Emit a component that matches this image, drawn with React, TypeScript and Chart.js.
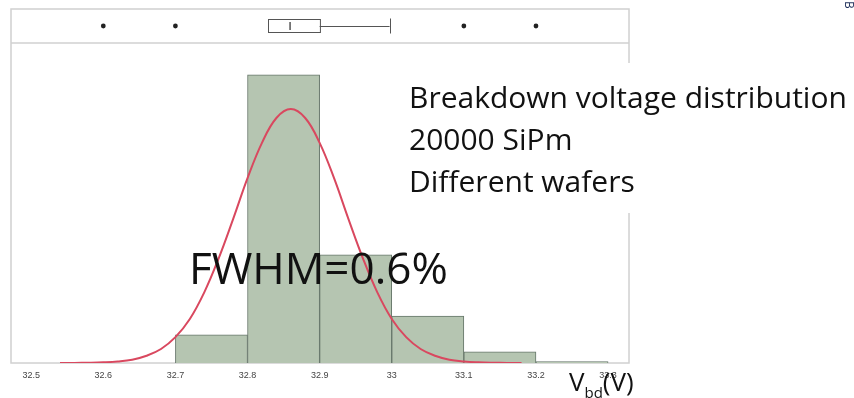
import React, { useEffect, useRef } from "react";
import { Chart, registerables } from "chart.js";

Chart.register(...registerables);

// Histogram bins (bin centres, V) and counts
const binCenters = [32.75, 32.85, 32.95, 33.05, 33.15, 33.25];
const binCounts = [1160, 11910, 4470, 1940, 460, 60];

// Fitted normal curve sampled along the voltage axis
const fitX = [
  32.54, 32.56, 32.58, 32.6, 32.62, 32.64, 32.66, 32.68, 32.7, 32.72, 32.74, 32.76,
  32.78, 32.8, 32.82, 32.84, 32.86, 32.88, 32.9, 32.92, 32.94, 32.96, 32.98, 33.0,
  33.02, 33.04, 33.06, 33.08, 33.1, 33.12, 33.14, 33.16, 33.18,
];
const fitY = [
  2, 5, 12, 28, 62, 135, 300, 580, 1070, 1820, 2920, 4330,
  5950, 7640, 9100, 10130, 10500, 10130, 9100, 7640, 5950, 4330, 2920, 1820,
  1070, 580, 300, 135, 62, 28, 12, 5, 2,
];

// Box plot summary of the same sample
const boxQ1 = 32.828;
const boxMedian = 32.859;
const boxQ3 = 32.9;
const whiskerHigh = 32.997;
const outliers = [32.6, 32.7, 33.1, 33.2];

// Axis
const xTickValues = [32.5, 32.6, 32.7, 32.8, 32.9, 33.0, 33.1, 33.2, 33.3];
const xTickLabels = ["32.5", "32.6", "32.7", "32.8", "32.9", "33", "33.1", "33.2", "33.3"];
const xMin = 32.472;
const xMax = 33.329;
const yMax = 13230;

// Annotation text
const infoLines = ["Breakdown voltage distribution", "20000 SiPm", "Different wafers"];
const fwhmLabel = "FWHM=0.6%";

const TEXT_FONT = '"Open Sans", "Liberation Sans", sans-serif';

const decorations = {
  id: "decorations",
  beforeDatasetsDraw(chart: any) {
    const { ctx, chartArea } = chart;
    const top = 9;
    ctx.save();
    ctx.strokeStyle = "#d0d0d0";
    ctx.lineWidth = 1.5;
    ctx.strokeRect(chartArea.left, top, chartArea.right - chartArea.left, chartArea.bottom - top);
    ctx.beginPath();
    ctx.moveTo(chartArea.left, chartArea.top);
    ctx.lineTo(chartArea.right, chartArea.top);
    ctx.stroke();
    ctx.restore();
  },
  afterDatasetsDraw(chart: any) {
    const { ctx } = chart;
    const xs = chart.scales.x;
    const px = (v: number) => xs.getPixelForValue(v);

    ctx.save();
    // box plot strip
    const yMid = 26;
    const boxTop = 19.5;
    const boxBot = 32.5;
    ctx.fillStyle = "#222";
    outliers.forEach((v) => {
      ctx.beginPath();
      ctx.arc(px(v), yMid, 2.4, 0, Math.PI * 2);
      ctx.fill();
    });
    ctx.strokeStyle = "#555";
    ctx.lineWidth = 1;
    ctx.strokeRect(Math.round(px(boxQ1)) + 0.5, boxTop, px(boxQ3) - px(boxQ1), boxBot - boxTop);
    ctx.beginPath();
    ctx.moveTo(px(boxQ3), yMid + 0.5);
    ctx.lineTo(px(whiskerHigh), yMid + 0.5);
    ctx.moveTo(Math.round(px(whiskerHigh)) + 0.5, boxTop - 1);
    ctx.lineTo(Math.round(px(whiskerHigh)) + 0.5, boxBot + 1);
    ctx.stroke();
    ctx.lineWidth = 1.5;
    ctx.beginPath();
    ctx.moveTo(px(boxMedian), yMid - 4);
    ctx.lineTo(px(boxMedian), yMid + 4);
    ctx.stroke();

    // white panel behind the description
    ctx.fillStyle = "#ffffff";
    ctx.fillRect(398, 63, 456, 150);

    ctx.fillStyle = "#111";
    ctx.textBaseline = "alphabetic";
    ctx.textAlign = "left";
    ctx.font = `30px ${TEXT_FONT}`;
    infoLines.forEach((line, i) => {
      ctx.fillText(line, 409, 108 + i * 42);
    });

    ctx.font = `44px ${TEXT_FONT}`;
    ctx.fillText(fwhmLabel, 189, 284);

    // axis title V_bd(V)
    ctx.font = `26px ${TEXT_FONT}`;
    ctx.fillText("V", 569, 391);
    const vW = ctx.measureText("V").width;
    ctx.font = `15px ${TEXT_FONT}`;
    ctx.fillText("bd", 569 + vW, 398);
    const bdW = ctx.measureText("bd").width;
    ctx.font = `26px ${TEXT_FONT}`;
    ctx.fillText("(V)", 569 + vW + bdW, 391);

    // small rotated fragment in the corner
    ctx.translate(845, 1);
    ctx.rotate(Math.PI / 2);
    ctx.font = `12px ${TEXT_FONT}`;
    ctx.fillStyle = "#1f2f5a";
    ctx.fillText("B", 0, 0);
    ctx.restore();
  },
};

export default function App() {
  const canvasRef = useRef<HTMLCanvasElement | null>(null);

  useEffect(() => {
    const canvas = canvasRef.current;
    if (!canvas) return;
    const chart = new Chart(canvas, {
      type: "bar",
      data: {
        datasets: [
          {
            type: "line",
            data: fitX.map((x, i) => ({ x, y: fitY[i] })),
            borderColor: "#d9485f",
            borderWidth: 2,
            pointRadius: 0,
            tension: 0.4,
            fill: false,
            order: 0,
          } as any,
          {
            type: "bar",
            data: binCenters.map((x, i) => ({ x, y: binCounts[i] })),
            backgroundColor: "#b5c5b1",
            borderColor: "#66766a",
            borderWidth: 1,
            barPercentage: 1,
            categoryPercentage: 1,
            order: 1,
          } as any,
        ],
      },
      options: {
        responsive: false,
        animation: false,
        devicePixelRatio: 1,
        layout: { padding: { left: 11, right: 225, top: 43, bottom: 0 } },
        plugins: { legend: { display: false }, tooltip: { enabled: false } },
        scales: {
          x: {
            type: "linear",
            offset: false,
            min: xMin,
            max: xMax,
            grid: { display: false, drawTicks: false },
            border: { display: false },
            afterBuildTicks: (scale: any) => {
              scale.ticks = xTickValues.map((value) => ({ value }));
            },
            afterFit: (scale: any) => {
              scale.height = 35;
            },
            ticks: {
              autoSkip: false,
              maxRotation: 0,
              padding: 7,
              color: "#444444",
              font: { family: '"Liberation Sans", sans-serif', size: 9 },
              callback: (_v: any, i: number) => xTickLabels[i],
            },
          },
          y: { display: false, min: 0, max: yMax },
        },
      },
      plugins: [decorations],
    });
    return () => chart.destroy();
  }, []);

  return (
    <div style={{ position: "fixed", left: 0, top: 0, width: 854, height: 398, background: "#fff" }}>
      <canvas ref={canvasRef} width={854} height={398} style={{ display: "block" }} />
    </div>
  );
}
